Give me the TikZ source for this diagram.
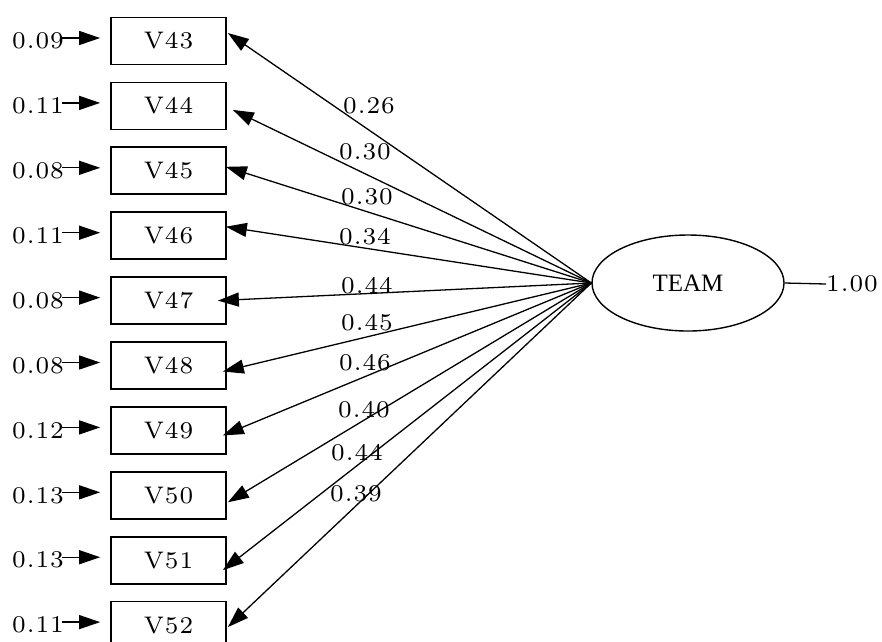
\documentclass[tikz,border=0pt]{standalone}
\usepackage{fontspec}
\usetikzlibrary{arrows.meta,shapes.geometric,calc}
\newfontfamily\lmwide{lmroman7-regular.otf}[LetterSpace=4]
\newfontfamily\timesf{Liberation Serif}
\begin{document}
\begin{tikzpicture}[x=1pt,y=-1pt,
  var/.style={draw, line width=1.7pt, minimum width=115pt, minimum height=47pt, inner sep=0pt, font=\lmwide\fontsize{24}{28}\selectfont},
  lbl/.style={font=\lmwide\fontsize{24}{28}\selectfont, inner sep=0pt},
  arr/.style={-{Triangle[length=21pt,width=14pt]}, line width=1.3pt},
  latent/.style={ellipse, draw, line width=1.4pt, minimum width=192pt, minimum height=96pt, inner sep=0pt, font=\timesf\fontsize{25}{29}\selectfont}]
\path[use as bounding box] (0,0) rectangle (882,641);
\clip (0,0) rectangle (882,641);
\node[latent] (team) at (688,283) {TEAM};
\node[lbl, anchor=west] (tv) at (826,284) {1.00};
\draw[line width=1.3pt] (team.east) -- (tv.west);
\foreach \n/\r/\l/\dx/\dy/\lx/\ly [count=\i from 0] in {
  43/0.09/0.26/1/8/369/106,
  44/0.11/0.30/6/-4/365/152,
  45/0.08/0.30/-1/4/367/197,
  46/0.11/0.34/-1/9/365/237,
  47/0.08/0.44/-9/0/367/286,
  48/0.08/0.45/-4/-6/367/323,
  49/0.12/0.46/-4/-5/365/363,
  50/0.13/0.40/1/-7/364/410,
  51/0.13/0.44/-4/-10/357/453,
  52/0.11/0.39/1/-2/356/494}{
  \node[var] (v\n) at (168.5,{41+64.9*\i}) {V\n};
  \node[lbl, anchor=east] (r\n) at (64,{41+64.9*\i}) {\r};
  \draw[arr] ([xshift=-2pt,yshift=3pt]r\n.east) -- ([xshift=-10pt,yshift=3pt]v\n.west);
  \draw[arr] (team.west) -- ([xshift=\dx pt,yshift=\dy pt]v\n.east);
  \node[lbl] (w\n) at (\lx,\ly) {\l};
}
\end{tikzpicture}
\end{document}
